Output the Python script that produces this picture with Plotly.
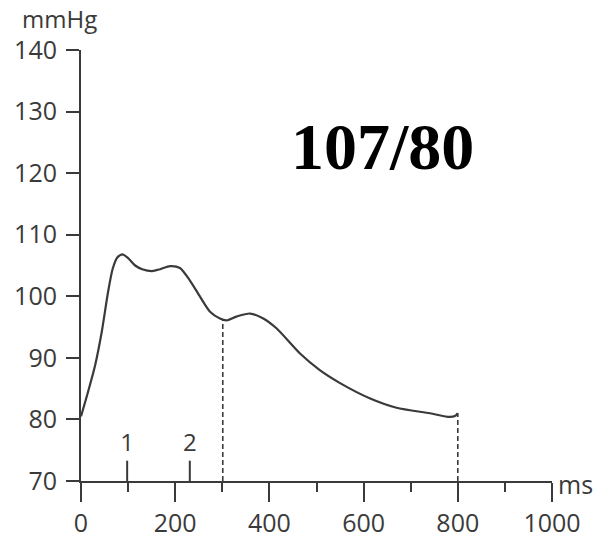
import plotly.graph_objects as go

# Pressure waveform (ms, mmHg)
time_ms = [0, 15, 30, 44, 57, 67, 77, 88, 100, 115, 130, 151, 168, 189, 210, 231, 253,
           274, 295, 309, 330, 359, 387, 415, 465, 507, 550, 614, 670, 741, 783, 795, 800]
pressure = [80.5, 84.5, 88.8, 94.2, 100.5, 104.4, 106.3, 106.8, 106.2, 105.0, 104.4,
            104.1, 104.4, 104.9, 104.6, 102.6, 99.9, 97.5, 96.4, 96.1, 96.7, 97.2,
            96.4, 94.8, 90.7, 88.0, 85.9, 83.4, 81.9, 81.0, 80.4, 80.6, 81.0]

# dashed drop lines (ms, pressure at curve)
drop_ms = [301, 800]
drop_top = [96.2, 81.0]

# phase markers
phase_ms = [98, 231]
phase_labels = ["1", "2"]
phase_tick_top = 73.3
phase_label_y = 75.9

x_ticks = [0, 200, 400, 600, 800, 1000]
y_ticks = [70, 80, 90, 100, 110, 120, 130, 140]
x_range = [0, 1000]
y_range = [70, 140]
title_text = "107/80"
y_unit = "mmHg"
x_unit = "ms"

INK = "#3a3a3a"
FONT = "Open Sans"

fig = go.Figure()

for xm, top in zip(drop_ms, drop_top):
    fig.add_trace(go.Scatter(x=[xm, xm], y=[y_range[0], top], mode="lines",
                             line=dict(color=INK, width=1.6, dash="5px,3px"),
                             hoverinfo="skip", showlegend=False))

for xm in phase_ms:
    fig.add_trace(go.Scatter(x=[xm, xm], y=[y_range[0], phase_tick_top], mode="lines",
                             line=dict(color=INK, width=2),
                             hoverinfo="skip", showlegend=False))

fig.add_trace(go.Scatter(x=phase_ms, y=[phase_label_y] * len(phase_ms), mode="text",
                         text=phase_labels, textposition="middle center",
                         textfont=dict(family=FONT, size=24, color=INK),
                         hoverinfo="skip", showlegend=False))

fig.add_trace(go.Scatter(x=time_ms, y=pressure, mode="lines",
                         line=dict(color=INK, width=2.2, shape="spline", smoothing=0.7),
                         showlegend=False))

fig.update_layout(
    width=597, height=541,
    margin=dict(l=81, r=45, t=50, b=60),
    paper_bgcolor="white", plot_bgcolor="white",
    font=dict(family=FONT, size=25, color=INK),
    xaxis=dict(range=x_range, tickvals=x_ticks, showgrid=False, zeroline=False,
               automargin=False,
               showline=True, linecolor=INK, linewidth=2,
               ticks="outside", ticklen=19, tickwidth=2, tickcolor=INK,
               ticklabelstandoff=0,
               minor=dict(dtick=100, tick0=0, ticks="outside", ticklen=9,
                          tickwidth=2, tickcolor=INK, showgrid=False),
               tickfont=dict(family=FONT, size=25, color=INK)),
    yaxis=dict(range=y_range, tickvals=y_ticks, showgrid=False, zeroline=False,
               automargin=False,
               showline=True, linecolor=INK, linewidth=2,
               ticks="outside", ticklen=13, tickwidth=2, tickcolor=INK,
               ticklabelstandoff=4,
               tickfont=dict(family=FONT, size=25, color=INK)),
    annotations=[
        dict(text=title_text, x=0.64, y=0.775, xref="paper", yref="paper",
             showarrow=False, xanchor="center", yanchor="middle",
             font=dict(family="Liberation Serif", size=66, color="black", weight="bold")),
        dict(text=y_unit, x=-0.13, y=1.03, xref="paper", yref="paper",
             xanchor="left", yanchor="bottom", showarrow=False,
             font=dict(family=FONT, size=24, color=INK)),
        dict(text=x_unit, x=1.0, y=0.0, xref="paper", yref="paper",
             xanchor="left", yanchor="middle", xshift=4, yshift=-3, showarrow=False,
             font=dict(family=FONT, size=25, color=INK)),
    ],
)

fig.write_html("out.html")
